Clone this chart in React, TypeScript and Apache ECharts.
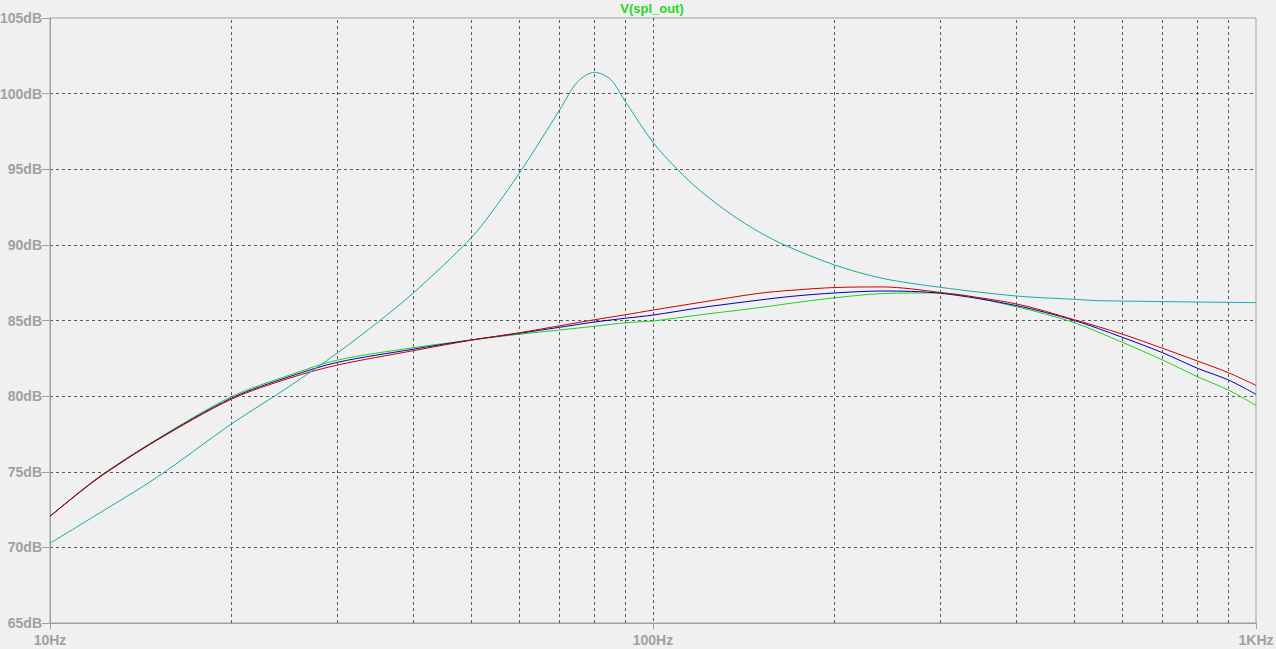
import React, { useEffect, useRef } from "react";
import * as echarts from "echarts";

// Frequencies (Hz) for the three close curves
const freqs = [10, 12, 15, 20, 25, 30, 40, 50, 60, 70, 80, 90, 100, 120, 150, 170, 200, 240, 300, 400, 500, 600, 700, 800, 900, 1000];
const redDb = [72.05, 74.55, 77.05, 79.8, 81.2, 82.06, 83.0, 83.7, 84.19, 84.65, 85.05, 85.38, 85.69, 86.2, 86.8, 87.0, 87.18, 87.22, 86.85, 86.1, 85.05, 84.1, 83.16, 82.32, 81.55, 80.71];
const blueDb = [72.05, 74.57, 77.08, 79.87, 81.3, 82.24, 83.1, 83.72, 84.15, 84.55, 84.9, 85.15, 85.36, 85.85, 86.35, 86.6, 86.82, 86.95, 86.8, 85.99, 85.0, 83.89, 82.87, 81.84, 81.07, 80.12];
const greenDb = [72.07, 74.6, 77.12, 79.97, 81.4, 82.39, 83.2, 83.71, 84.09, 84.37, 84.62, 84.85, 84.97, 85.38, 85.85, 86.15, 86.5, 86.78, 86.82, 85.91, 84.85, 83.56, 82.39, 81.28, 80.4, 79.39];

// Cyan curve (resonant)
const cyanFreqs = [10, 12, 15, 20, 25, 30, 35, 40, 50, 55, 60, 65, 70, 75, 80, 85, 90, 100, 110, 120, 135, 150, 165, 200, 240, 300, 400, 500, 550, 1000];
const cyanDb = [70.27, 72.2, 74.6, 78.16, 80.67, 82.87, 84.9, 86.8, 90.48, 92.59, 94.73, 96.87, 98.92, 100.79, 101.41, 100.95, 99.47, 96.78, 94.95, 93.55, 92.0, 90.85, 90.0, 88.67, 87.79, 87.19, 86.62, 86.4, 86.31, 86.18];

// Minor vertical grid frequencies
const minorFreqs = [20, 30, 40, 50, 60, 70, 80, 90, 200, 300, 400, 500, 600, 700, 800, 900];

const yTicks = { min: 65, max: 105, step: 5 };
const title = "V(spl_out)";

const pair = (xs: number[], ys: number[]) => xs.map((x, i) => [x, ys[i]]);

export default function App() {
  const ref = useRef<HTMLDivElement>(null);
  useEffect(() => {
    if (!ref.current) return;
    const chart = echarts.init(ref.current, null, { renderer: "svg" });
    const labelColor = "#a0a0a0";
    const gridColor = "#5a5a5a";
    const font = "Liberation Sans, Arial, sans-serif";
    const lineSeries = (name: string, data: number[][], color: string, z: number) => ({
      name,
      type: "line",
      data,
      smooth: 0.3,
      showSymbol: false,
      symbol: "none",
      z,
      lineStyle: { color, width: 1 },
      itemStyle: { color },
    });
    chart.setOption({
      animation: false,
      backgroundColor: "#f0f0f0",
      title: {
        text: title,
        left: 652,
        top: 2,
        padding: 0,
        textAlign: "center",
        textStyle: { color: "#22d822", fontSize: 13, fontWeight: "bold", fontFamily: font },
      },
      grid: {
        left: 50,
        right: 20,
        top: 18,
        bottom: 26,
        containLabel: false,
        outerBoundsMode: "none",
        show: true,
        borderColor: labelColor,
        borderWidth: 1,
        backgroundColor: "transparent",
      },
      xAxis: {
        type: "log",
        logBase: 10,
        min: 10,
        max: 1000,
        axisLine: { show: true, lineStyle: { color: labelColor } },
        axisTick: { show: true, length: 6, lineStyle: { color: labelColor } },
        axisLabel: {
          color: labelColor,
          fontSize: 14,
          fontWeight: "bold",
          fontFamily: font,
          margin: 10,
          formatter: (v: number) => {
            const r = Math.round(v);
            return r >= 1000 ? `${r / 1000}KHz` : `${r}Hz`;
          },
        },
        splitLine: { show: true, showMinLine: false, showMaxLine: false, lineStyle: { color: gridColor, type: [3, 3], width: 1 } },
      },
      yAxis: {
        type: "value",
        min: yTicks.min,
        max: yTicks.max,
        interval: yTicks.step,
        axisLine: { show: true, lineStyle: { color: labelColor } },
        axisTick: { show: true, length: 8, lineStyle: { color: labelColor } },
        axisLabel: {
          color: labelColor,
          fontSize: 14,
          fontWeight: "bold",
          fontFamily: font,
          margin: 8,
          formatter: (v: number) => `${v}dB`,
        },
        splitLine: { show: true, showMinLine: false, showMaxLine: false, lineStyle: { color: gridColor, type: [3, 3], width: 1 } },
      },
      series: [
        {
          name: "grid",
          type: "line",
          data: [],
          z: 1,
          silent: true,
          markLine: {
            silent: true,
            symbol: "none",
            label: { show: false },
            animation: false,
            lineStyle: { color: gridColor, type: [3, 3], width: 1 },
            data: minorFreqs.map((f) => ({ xAxis: f })),
          },
        },
        lineSeries("green", pair(freqs, greenDb), "#22d022", 2),
        lineSeries("blue", pair(freqs, blueDb), "#0000b4", 3),
        lineSeries("red", pair(freqs, redDb), "#c80000", 4),
        lineSeries("cyan", pair(cyanFreqs, cyanDb), "#1aa8a8", 5),
      ],
    });
    return () => chart.dispose();
  }, []);
  return (
    <div
      ref={ref}
      style={{ position: "fixed", left: 0, top: 0, width: 1276, height: 649, background: "#f0f0f0" }}
    />
  );
}
